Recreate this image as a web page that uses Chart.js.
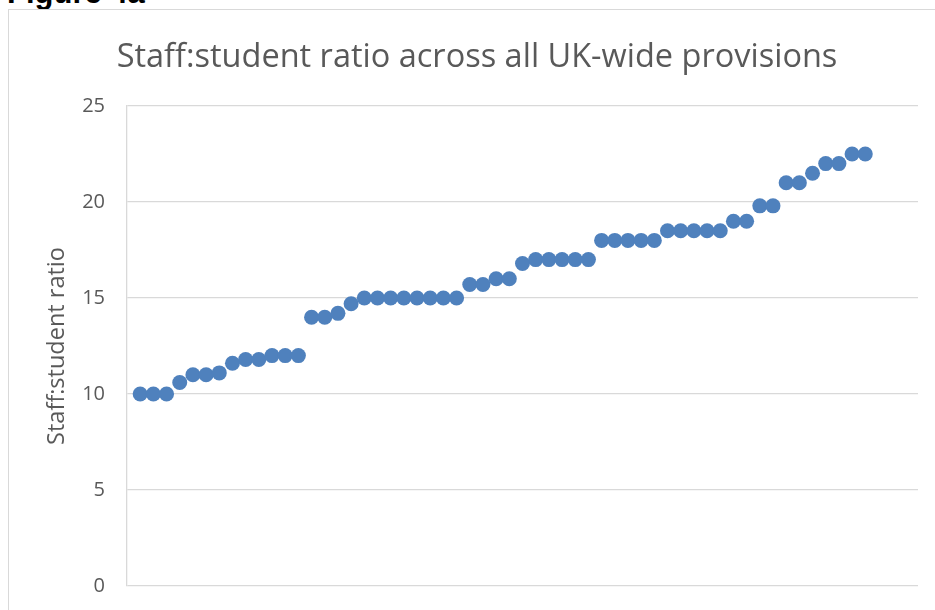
<!DOCTYPE html>
<html>
<head>
<meta charset="utf-8">
<script src="https://cdn.jsdelivr.net/npm/chart.js@4"></script>
<style>
  html, body { margin: 0; padding: 0; background: #fff; }
  #page { position: relative; width: 935px; height: 610px; overflow: hidden; }
  #fig { position: absolute; left: 7px; top: -25px; line-height: 31px; white-space: nowrap;
         font: bold 31px 'Liberation Sans', Arial, sans-serif; color: #000; }
  #frame { position: absolute; left: 8px; top: 9px; width: 960px; height: 640px;
           border: 1.5px solid #d9d9d9; background: #fff; }
  #wrap { position: absolute; left: 0; top: 0; width: 935px; height: 620px; }
</style>
</head>
<body>
<div id="page">
  <div id="fig">Figure 4a</div>
  <div id="frame"></div>
  <div id="wrap"><canvas id="ratioChart"></canvas></div>
</div>
<script>
// ===== Data =====
const chartTitle = 'Staff:student ratio across all UK-wide provisions';
const axisTitle = 'Staff:student ratio';
const provisions = [1, 2, 3, 4, 5, 6, 7, 8, 9, 10, 11, 12, 13, 14, 15, 16, 17, 18, 19, 20,
    21, 22, 23, 24, 25, 26, 27, 28, 29, 30, 31, 32, 33, 34, 35, 36, 37, 38, 39, 40,
    41, 42, 43, 44, 45, 46, 47, 48, 49, 50, 51, 52, 53, 54, 55, 56];
const ratios = [10, 10, 10, 10.6, 11, 11, 11.1, 11.6, 11.8, 11.8, 12, 12, 12, 14, 14, 14.2, 14.7,
    15, 15, 15, 15, 15, 15, 15, 15, 15.7, 15.7, 16, 16, 16.8, 17, 17, 17, 17, 17,
    18, 18, 18, 18, 18, 18.5, 18.5, 18.5, 18.5, 18.5, 19, 19, 19.8, 19.8,
    21, 21, 21.5, 22, 22, 22.5, 22.5];
const yTicks = [0, 5, 10, 15, 20, 25];

// ===== Theme =====
const textGrey = '#595959';
const gridGrey = '#d9d9d9';
const pointBlue = '#4f81bd';
Chart.defaults.font.family = "'Open Sans', sans-serif";

const points = provisions.map((p, i) => ({ x: p, y: ratios[i] }));

new Chart(document.getElementById('ratioChart'), {
    type: 'scatter',
    data: {
        datasets: [{
            label: axisTitle,
            data: points,
            backgroundColor: pointBlue,
            borderColor: pointBlue,
            borderWidth: 0,
            pointRadius: 7.5
        }]
    },
    options: {
        responsive: true,
        maintainAspectRatio: false,
        animation: false,
        // left padding pushes the title centre right, like the Excel frame
        layout: { padding: { left: 36, right: 17, top: 0, bottom: 17 } },
        plugins: {
            legend: { display: false },
            tooltip: { enabled: false },
            title: {
                display: true,
                text: chartTitle,
                color: textGrey,
                font: { size: 32.5, weight: 'normal' },
                padding: { top: 38, bottom: 29 }
            }
        },
        scales: {
            x: { type: 'linear', min: 0, max: 60, display: false },
            y: {
                min: yTicks[0],
                max: yTicks[yTicks.length - 1],
                afterBuildTicks: (s) => { s.ticks = yTicks.map(v => ({ value: v })); },
                afterFit: (s) => { s.width = 91; },
                ticks: { color: textGrey, font: { size: 20 }, padding: 22 },
                grid: { color: gridGrey, lineWidth: 1.3, drawTicks: false },
                border: { color: gridGrey, width: 1.3 },
                title: {
                    display: true,
                    text: axisTitle,
                    color: textGrey,
                    font: { size: 23.5 },
                    padding: { top: 7, bottom: 0 }
                }
            }
        }
    }
});
</script>
</body>
</html>
